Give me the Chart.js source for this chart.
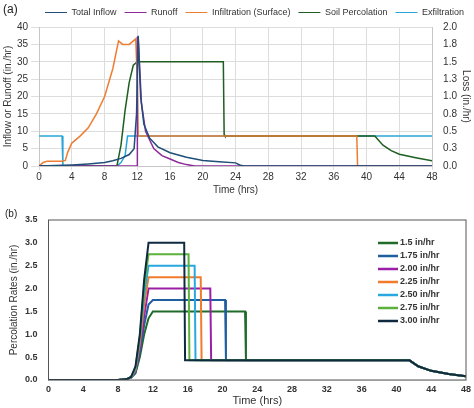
<!DOCTYPE html>
<html><head><meta charset="utf-8">
<script src="https://cdn.jsdelivr.net/npm/chart.js@4"></script>
<style>
body{margin:0;background:#fff;font-family:"Liberation Sans",Arial,sans-serif;}
#wa{position:absolute;left:0;top:0;width:474px;height:200px;}
#wb{position:absolute;left:0;top:205px;width:474px;height:203px;}
.lab{position:absolute;font-size:12px;color:#222;}
</style></head><body>
<div id="wa"><canvas id="ca"></canvas></div>
<div id="wb"><canvas id="cb"></canvas></div>
<div class="lab" style="left:3px;top:2px">(a)</div>
<div class="lab" style="left:5px;top:208px;font-size:10px">(b)</div>
<script>
// ---- panel (a) data ----
var inflowT = [0, 3, 4, 6, 8, 9, 10, 11, 11.6, 11.9, 12.1, 12.4, 12.8, 13.5, 14.5, 16, 18, 20, 22, 24, 24.5, 25, 48];
var inflowV = [0, 0.2, 0.3, 0.6, 1.0, 1.5, 2.2, 3.3, 5, 15, 37.5, 20, 12, 8, 5.5, 3.8, 2.5, 1.6, 1.2, 0.9, 0.3, 0, 0];
var runoffT = [0, 12, 12, 12.1, 12.5, 13, 14, 15, 16, 17, 18, 19, 48];
var runoffV = [0, 0, 37, 37, 18, 10, 5, 3, 2, 1, 0.4, 0, 0];
var infilT = [0, 0.5, 1, 2.8, 3.2, 3.5, 4, 5, 6, 7, 8, 9, 9.7, 10.2, 11, 11.8, 12, 12.1, 38.8, 38.9, 48];
var infilV = [0, 0.05, 0.07, 0.07, 0.08, 0.2, 0.33, 0.43, 0.55, 0.75, 1.0, 1.4, 1.8, 1.75, 1.75, 1.83, 1.2, 0.43, 0.43, 0, 0];
var percT = [0, 9.5, 10, 10.5, 11, 11.5, 12, 22.5, 22.6, 22.7, 41, 42, 43, 44, 46, 48];
var percV = [0, 0, 0.3, 0.8, 1.2, 1.45, 1.5, 1.5, 0.45, 0.43, 0.43, 0.3, 0.22, 0.17, 0.12, 0.075];
var exfilT = [0, 2.8, 2.9, 9.5, 10, 10.5, 10.8, 48];
var exfilV = [0.43, 0.43, 0, 0, 0.05, 0.15, 0.43, 0.43];

// ---- panel (b) data ----
var rateLabels = ['1.5 in/hr', '1.75 in/hr', '2.00 in/hr', '2.25 in/hr', '2.50 in/hr', '2.75 in/hr', '3.00 in/hr'];
var rateColors = ['#1e6b2a', '#1f5fa0', '#9b1fa6', '#f07b2c', '#29a8e0', '#5cb13c', '#0f2a40'];
var riseT = [0, 8, 9, 9.5, 10, 10.5, 11, 11.5, 12];
var riseV = [
  [0, 0, 0.02, 0.05, 0.15, 0.5, 1.0, 1.35, 1.5],
  [0, 0, 0.02, 0.05, 0.17, 0.6, 1.2, 1.65, 1.75],
  [0, 0, 0.02, 0.06, 0.2, 0.7, 1.4, 2.0, 2.0],
  [0, 0, 0.02, 0.06, 0.22, 0.8, 1.65, 2.25, 2.25],
  [0, 0, 0.02, 0.06, 0.24, 0.9, 1.85, 2.5, 2.5],
  [0, 0, 0.02, 0.07, 0.26, 0.95, 2.05, 2.75, 2.75],
  [0, 0, 0.02, 0.07, 0.3, 1.0, 2.2, 3.0, 3.0]
];
var endT = [22.6, 20.3, 18.6, 17.5, 16.8, 16.1, 15.6];
var tailT = [41.5, 42.5, 44, 46, 48];
var tailV = [0.43, 0.3, 0.2, 0.13, 0.08];
var baseRate = 0.43;

function pts(xs, ys) { return xs.map(function (x, i) { return {x: x, y: ys[i]}; }); }

var fontA = {family: 'Liberation Sans', size: 10};
Chart.defaults.color = '#333';

new Chart(document.getElementById('ca'), {
  type: 'line',
  data: {
    datasets: [
      {label: 'Total Inflow', data: pts(inflowT, inflowV), borderColor: '#1f4e79', yAxisID: 'y'},
      {label: 'Runoff', data: pts(runoffT, runoffV), borderColor: '#8e2a9c', yAxisID: 'y'},
      {label: 'Infiltration (Surface)', data: pts(infilT, infilV), borderColor: '#ed7d31', yAxisID: 'y2'},
      {label: 'Soil Percolation', data: pts(percT, percV), borderColor: '#1e5e20', yAxisID: 'y2'},
      {label: 'Exfiltration', data: pts(exfilT, exfilV), borderColor: '#2aa6d6', yAxisID: 'y2'}
    ]
  },
  options: {
    animation: false, responsive: true, maintainAspectRatio: false,
    elements: {point: {radius: 0}, line: {borderWidth: 1.5, tension: 0}},
    layout: {padding: {left: 2, right: 2, top: 0, bottom: 4}},
    plugins: {
      legend: {position: 'top', align: 'end', labels: {usePointStyle: true, pointStyle: 'line', pointStyleWidth: 22, font: {size: 9}, padding: 8, boxHeight: 2}},
      tooltip: {enabled: false}
    },
    scales: {
      x: {type: 'linear', min: 0, max: 48, ticks: {stepSize: 4, font: fontA, padding: 1},
          title: {display: true, text: 'Time (hrs)', font: fontA, padding: 0}, grid: {color: '#ddd', tickLength: 4}},
      y: {min: 0, max: 40, ticks: {stepSize: 5, font: fontA},
          title: {display: true, text: 'Inflow or Runoff (in./hr)', font: fontA, padding: 0}, grid: {color: '#ddd'}},
      y2: {position: 'right', min: 0, max: 2, ticks: {stepSize: 0.25, font: fontA, callback: function (v) { return v.toFixed(1); }},
          title: {display: true, text: 'Loss (in./hr)', font: fontA, padding: 0}, grid: {display: false}}
    }
  }
});

var dsB = rateLabels.map(function (lab, i) {
  var xs = riseT.concat([endT[i], endT[i] + 0.1]).concat(tailT);
  var ys = riseV[i].concat([riseV[i][riseV[i].length - 1], baseRate]).concat(tailV);
  return {label: lab, data: pts(xs, ys), borderColor: rateColors[i], backgroundColor: rateColors[i]};
}).reverse();

var boxPlugin = {
  id: 'boxAndLegend',
  afterDraw: function (c) {
    var a = c.chartArea, ctx = c.ctx;
    ctx.save();
    ctx.strokeStyle = '#555'; ctx.lineWidth = 1;
    ctx.strokeRect(a.left, a.top, a.right - a.left, a.bottom - a.top);
    ctx.font = 'bold 9px "Liberation Sans"';
    ctx.textBaseline = 'middle';
    for (var i = 0; i < rateLabels.length; i++) {
      var y = a.top + 23 + i * 13;
      ctx.strokeStyle = rateColors[i]; ctx.lineWidth = 2.5;
      ctx.beginPath(); ctx.moveTo(378, y); ctx.lineTo(398, y); ctx.stroke();
      ctx.fillStyle = '#333'; ctx.fillText(rateLabels[i], 400, y);
    }
    ctx.restore();
  }
};

var fontB = {family: 'Liberation Sans', size: 9, weight: 'bold'};
new Chart(document.getElementById('cb'), {
  type: 'line',
  data: {datasets: dsB},
  plugins: [boxPlugin],
  options: {
    animation: false, responsive: true, maintainAspectRatio: false,
    elements: {point: {radius: 0}, line: {borderWidth: 2, tension: 0}},
    layout: {padding: {left: 6, right: 8, top: 15, bottom: 0}},
    plugins: {legend: {display: false}, tooltip: {enabled: false}},
    scales: {
      x: {type: 'linear', min: 0, max: 48, ticks: {stepSize: 4, font: fontB, padding: 0}, grid: {display: false, tickLength: 4},
          title: {display: true, text: 'Time (hrs)', font: {family: 'Liberation Sans', size: 11}, padding: 0}},
      y: {min: 0, max: 3.5, ticks: {stepSize: 0.5, font: fontB, callback: function (v) { return v.toFixed(1); }}, grid: {display: false},
          title: {display: true, text: 'Percolation Rates (in./hr)', font: {family: 'Liberation Sans', size: 10}, padding: 2}}
    }
  }
});
</script>
</body></html>
